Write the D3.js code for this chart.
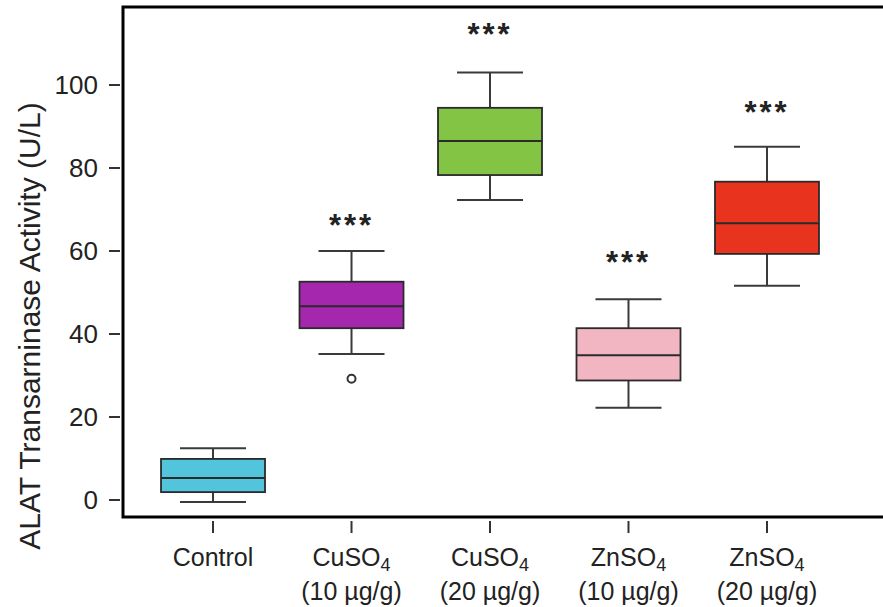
<!DOCTYPE html>
<html>
<head>
<meta charset="utf-8">
<script src="https://cdn.jsdelivr.net/npm/d3@7"></script>
<style>
  body { margin: 0; background: #fff; }
  svg text { font-family: "Liberation Sans", Arial, sans-serif; fill: #222; }
</style>
</head>
<body>
<div id="vis"></div>
<script>
// groups on the x axis
var groups = ["Control", "CuSO4 10", "CuSO4 20", "ZnSO4 10", "ZnSO4 20"];
var labelTop = ["Control", "CuSO", "CuSO", "ZnSO", "ZnSO"];
var labelSub = ["", "4", "4", "4", "4"];
var labelBottom = ["", "(10 µg/g)", "(20 µg/g)", "(10 µg/g)", "(20 µg/g)"];

// box statistics (U/L)
var whiskerLow = [-0.5, 35.2, 72.3, 22.2, 51.6];
var q1 = [1.9, 41.4, 78.3, 28.8, 59.3];
var median = [5.3, 46.7, 86.5, 34.9, 66.7];
var q3 = [9.9, 52.6, 94.5, 41.4, 76.7];
var whiskerHigh = [12.5, 60.0, 103.0, 48.4, 85.1];
var outliers = [[], [29.2], [], [], []];

// significance marks
var stars = ["", "***", "***", "***", "***"];
var starLevel = [0, 67.7, 113.7, 58.8, 94.9];

var boxColours = ["#52c4dc", "#a527ae", "#84c444", "#f2b6c3", "#e8331f"];
var yTicks = [0, 20, 40, 60, 80, 100];

var width = 883, height = 607;
// note: "top" is reserved on window, so the frame edges get their own names
var frameLeft = 123, frameRight = 857, frameTop = 7, frameBottom = 517;

var svg = d3.select("#vis").append("svg")
    .attr("width", width)
    .attr("height", height);

var x = d3.scalePoint().domain(groups).range([frameLeft, frameRight]).padding(0.65);
var y = d3.scaleLinear().domain([0, 100]).range([500, 85]);

var boxHalf = 52, capHalf = 33;

var rows = groups.map(function(g, i){
    return {g: g, lo: whiskerLow[i], q1: q1[i], med: median[i], q3: q3[i], hi: whiskerHigh[i],
            out: outliers[i], colour: boxColours[i], star: stars[i], starY: starLevel[i]};
});

var plot = svg.append("g");

var box = plot.selectAll(".box").data(rows).enter().append("g").attr("class", "box");

// whisker stems
box.append("line")
    .attr("x1", function(d){ return x(d.g); })
    .attr("x2", function(d){ return x(d.g); })
    .attr("y1", function(d){ return y(d.hi); })
    .attr("y2", function(d){ return y(d.q3); })
    .attr("stroke", "#3a3a3a").attr("stroke-width", 2);
box.append("line")
    .attr("x1", function(d){ return x(d.g); })
    .attr("x2", function(d){ return x(d.g); })
    .attr("y1", function(d){ return y(d.q1); })
    .attr("y2", function(d){ return y(d.lo); })
    .attr("stroke", "#3a3a3a").attr("stroke-width", 2);
// caps
["hi", "lo"].forEach(function(k){
    box.append("line")
        .attr("x1", function(d){ return x(d.g) - capHalf; })
        .attr("x2", function(d){ return x(d.g) + capHalf; })
        .attr("y1", function(d){ return y(d[k]); })
        .attr("y2", function(d){ return y(d[k]); })
        .attr("stroke", "#3a3a3a").attr("stroke-width", 2);
});

box.append("rect")
    .attr("x", function(d){ return x(d.g) - boxHalf; })
    .attr("width", boxHalf * 2)
    .attr("y", function(d){ return y(d.q3); })
    .attr("height", function(d){ return y(d.q1) - y(d.q3); })
    .attr("fill", function(d){ return d.colour; })
    .attr("stroke", "#2a2a2a").attr("stroke-width", 1.8);

box.append("line")
    .attr("x1", function(d){ return x(d.g) - boxHalf; })
    .attr("x2", function(d){ return x(d.g) + boxHalf; })
    .attr("y1", function(d){ return y(d.med); })
    .attr("y2", function(d){ return y(d.med); })
    .attr("stroke", "#2a2a2a").attr("stroke-width", 2);

box.selectAll(".outlier").data(function(d){ return d.out.map(function(v){ return {g: d.g, v: v}; }); })
    .enter().append("circle")
    .attr("class", "outlier")
    .attr("cx", function(d){ return x(d.g); })
    .attr("cy", function(d){ return y(d.v); })
    .attr("r", 4)
    .attr("fill", "none").attr("stroke", "#333").attr("stroke-width", 2);

box.filter(function(d){ return d.star !== ""; }).append("text")
    .attr("x", function(d){ return x(d.g); })
    .attr("y", function(d){ return y(d.starY) + 17; })
    .attr("text-anchor", "middle")
    .attr("font-size", 31)
    .attr("font-weight", "bold")
    .attr("letter-spacing", 3)
    .text(function(d){ return d.star; });

// frame, running off the right edge like the original
svg.append("rect")
    .attr("x", frameLeft).attr("y", frameTop)
    .attr("width", width + 20 - frameLeft).attr("height", frameBottom - frameTop)
    .attr("fill", "none").attr("stroke", "#000").attr("stroke-width", 3);

// y axis ticks
var yAxis = svg.append("g");
yAxis.selectAll("line").data(yTicks).enter().append("line")
    .attr("x1", 109).attr("x2", 120)
    .attr("y1", function(d){ return y(d); })
    .attr("y2", function(d){ return y(d); })
    .attr("stroke", "#333").attr("stroke-width", 2);
yAxis.selectAll("text").data(yTicks).enter().append("text")
    .attr("x", 98)
    .attr("y", function(d){ return y(d) + 9; })
    .attr("text-anchor", "end")
    .attr("font-size", 26)
    .text(function(d){ return d; });

svg.append("text")
    .attr("transform", "translate(40," + 326 + ") rotate(-90)")
    .attr("text-anchor", "middle")
    .attr("font-size", 30)
    .text("ALAT Transarninase Activity (U/L)");

// x axis ticks and labels
var xAxis = svg.append("g");
xAxis.selectAll("line").data(groups).enter().append("line")
    .attr("x1", function(d){ return x(d); })
    .attr("x2", function(d){ return x(d); })
    .attr("y1", 521).attr("y2", 533)
    .attr("stroke", "#333").attr("stroke-width", 2);

var lab = xAxis.selectAll(".lab").data(groups).enter().append("text")
    .attr("class", "lab")
    .attr("x", function(d){ return x(d); })
    .attr("y", 566)
    .attr("text-anchor", "middle")
    .attr("font-size", 25);
lab.append("tspan").text(function(d, i){ return labelTop[i]; });
lab.append("tspan")
    .attr("font-size", 18).attr("dy", 5)
    .text(function(d, i){ return labelSub[i]; });

xAxis.selectAll(".lab2").data(groups).enter().append("text")
    .attr("class", "lab2")
    .attr("x", function(d){ return x(d); })
    .attr("y", 600)
    .attr("text-anchor", "middle")
    .attr("font-size", 25)
    .text(function(d, i){ return labelBottom[i]; });
</script>
</body>
</html>
